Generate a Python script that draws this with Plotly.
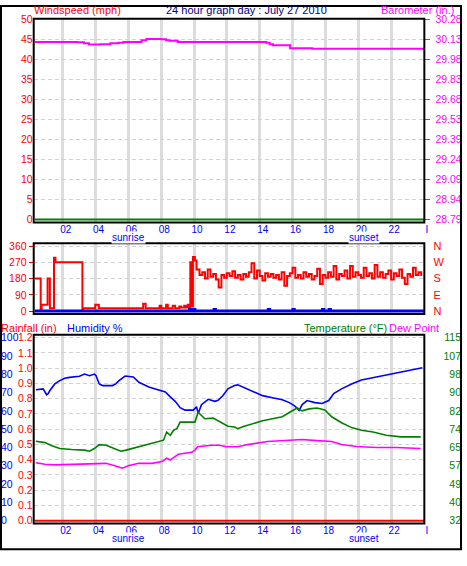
import plotly.graph_objects as go

W, H = 467, 566

# ---------------- data ----------------
hour_ticks = [2, 4, 6, 8, 10, 12, 14, 16, 18, 20, 22, 24]
hour_tick_labels = ["02", "04", "06", "08", "10", "12", "14", "16", "18", "20", "22", "I"]

speed_ticks = [0, 5, 10, 15, 20, 25, 30, 35, 40, 45, 50]
baro_tick_labels = ["28.79", "28.94", "29.09", "29.24", "29.39", "29.53",
                    "29.68", "29.83", "29.98", "30.13", "30.28"]

speed_hours = [0.3, 24.0]
speed_mph = [0, 0]

baro_hours = [0.3, 2.0, 2.9, 3.3, 3.6, 4.3, 4.9, 5.4, 5.7, 6.8, 7.1, 8.0, 8.3, 8.5,
              9.0, 14.2, 14.4, 14.6, 14.8, 15.85, 17.2, 24.0]
baro_in = [30.115, 30.115, 30.112, 30.105, 30.095, 30.098, 30.105, 30.108, 30.115,
           30.127, 30.137, 30.135, 30.127, 30.123, 30.115, 30.115, 30.108, 30.098,
           30.090, 30.068, 30.064, 30.066]

dir_ticks = [0, 90, 180, 270, 360]
compass_labels = ["N", "E", "S", "W", "N"]

dir_hours_early = [0.31, 0.66, 0.72, 1.08, 1.22, 1.47, 1.56, 3.2, 3.25, 3.98, 4.2,
                   6.9, 7.05, 7.9, 8.0, 8.3, 8.4, 8.7, 8.85, 9.1, 9.2, 9.4, 9.5,
                   9.62, 9.72, 9.77, 9.82, 9.93, 10.05, 10.15]
dir_deg_early = [180, 5, 35, 180, 15, 295, 270, 0, 15, 35, 15,
                 40, 15, 30, 15, 35, 15, 30, 15, 25, 20, 30, 20,
                 35, 20, 270, 25, 300, 280, 230]
dir_deg_late = [200, 215, 180, 230, 190, 205, 175, 130, 200, 185, 210, 195, 220, 185,
                200, 175, 205, 190, 215, 265, 180, 225, 195, 170, 210, 190, 205, 185,
                200, 175, 215, 140, 195, 210, 240, 185, 200, 180, 215, 190, 205, 175,
                195, 235, 150, 200, 185, 215, 190, 250, 175, 205, 195, 225, 180, 250,
                190, 215, 200, 185, 240, 195, 210, 180, 255, 190, 215, 185, 205, 225,
                175, 210, 195, 230, 185, 150, 205, 190, 240, 200, 215, 195]
dir_hours_late = [10.33 + i / 6 for i in range(len(dir_deg_late))]

gust_hours = [0.3, 9.7, 9.72, 9.8, 9.95, 9.97, 10.05, 11.2, 11.22, 11.3, 14.5, 14.52, 14.6,
              16.0, 16.02, 16.1, 17.8, 17.82, 17.9, 18.2, 18.22, 18.3, 24.0]
gust_val = [0, 0, 8, 0, 0, 8, 0, 0, 8, 0, 0, 8, 0, 0, 8, 0, 0, 8, 0, 0, 8, 0, 0]

hum_ticks = [0, 10, 20, 30, 40, 50, 60, 70, 80, 90, 100]
rain_tick_labels = ["0.0", "0.1", "0.2", "0.3", "0.4", "0.5", "0.6", "0.7", "0.8",
                    "0.9", "1.0", "1.1", "1.2"]
temp_tick_labels = ["32", "40", "49", "57", "65", "74", "82", "90", "98", "107", "115"]

hum_hours = [0.37, 0.81, 1.02, 1.11, 1.22, 1.52, 1.82, 2.12, 2.42, 3.02, 3.33, 3.63,
             3.93, 4.03, 4.23, 4.43, 5.03, 5.23, 5.43, 5.8, 6.3, 6.64, 7.24, 7.64,
             8.25, 8.55, 8.85, 9.15, 9.45, 9.95, 10.15, 10.25, 10.45, 10.86, 11.26,
             11.46, 11.76, 12.06, 12.46, 12.66, 13.26, 13.74, 14.17, 14.77, 15.37,
             15.8, 16.16, 16.4, 16.58, 16.88, 17.36, 17.78, 18.2, 18.5, 18.98, 19.59,
             20.19, 21.1, 22.3, 22.9, 23.5, 23.9]
hum_pct = [71.5, 72.0, 68.8, 69.4, 71.1, 74.7, 76.5, 77.8, 78.3, 78.9, 80.1, 79.2,
           80.1, 79.2, 74.7, 73.8, 73.8, 74.7, 76.5, 79.0, 78.5, 75.6, 73.0, 72.0,
           70.3, 67.6, 65.2, 61.7, 60.4, 60.4, 62.2, 58.6, 63.4, 66.3, 65.2, 65.8,
           68.4, 72.0, 73.8, 74.2, 72.0, 69.9, 68.3, 67.2, 66.1, 64.5, 62.4, 60.2,
           63.4, 65.6, 64.5, 64.0, 65.6, 69.4, 72.0, 74.7, 76.9, 78.5, 80.6, 81.7,
           83.0, 83.5]

temp_hours = [0.37, 0.92, 1.34, 1.82, 2.54, 3.33, 3.63, 3.93, 4.23, 4.65, 5.13, 5.55,
              5.86, 6.64, 7.42, 7.74, 8.14, 8.33, 8.55, 8.75, 8.95, 9.15, 10.05,
              10.25, 10.45, 10.65, 11.16, 11.56, 12.06, 12.46, 12.66, 12.96, 13.56,
              14.17, 14.77, 15.37, 15.85, 16.28, 16.58, 17.0, 17.48, 17.96, 18.38,
              18.98, 19.59, 20.19, 20.9, 21.7, 22.6, 23.8]
temp_f = [68.0, 67.4, 66.0, 64.7, 64.3, 64.0, 63.5, 64.7, 66.5, 66.2, 64.7, 63.5,
          64.0, 65.5, 67.0, 67.8, 68.5, 72.2, 70.7, 73.0, 73.7, 76.7, 76.7, 81.2,
          79.7, 78.2, 78.5, 76.7, 74.8, 74.5, 73.7, 74.6, 76.0, 77.3, 78.2, 79.1,
          81.3, 83.1, 81.8, 82.7, 83.1, 82.2, 79.1, 76.4, 74.2, 73.0, 72.2, 70.7,
          70.0, 70.0]

dew_hours = [0.37, 0.61, 0.92, 1.5, 2.62, 3.5, 4.63, 5.23, 5.63, 6.04, 6.64, 7.44,
             8.04, 8.34, 8.55, 8.75, 9.05, 9.85, 10.05, 10.21, 11.05, 11.56, 11.96,
             12.66, 13.26, 14.47, 15.67, 16.58, 17.48, 18.38, 18.98, 19.89, 21.1,
             22.3, 23.8]
dew_f = [58.3, 58.0, 57.6, 57.3, 57.6, 58.0, 58.0, 56.8, 55.8, 57.0, 58.0, 58.0,
         58.8, 60.3, 59.5, 60.6, 62.1, 63.0, 64.0, 65.5, 66.2, 66.2, 65.5, 65.5,
         66.5, 67.9, 68.3, 68.8, 68.3, 67.9, 66.5, 65.6, 65.2, 65.2, 64.7]

rain_hours = [0.3, 24.0]
rain_in = [0, 0]

# ---------------- helpers (layout geometry in pixels) ----------------
def px(x):
    return x / W


def py(y):
    return 1 - y / H


def vrange(v0, p0, v1, p1, pa, pb):
    k = (v1 - v0) / (p1 - p0)
    return [v0 + (pa - p0) * k, v0 + (pb - p0) * k]


XL, XR = 34, 428
xr = vrange(2, 63.3, 22, 395.3, XL, XR)
xr[1] = max(xr[1], 24.02)
xdom = [px(XL), px(XR)]

P1T, P1B = 14, 220
P2T, P2B = 243, 313
P3T, P3B = 336, 526

RED = "#ff0000"
MAG = "#ff00ff"
GRN = "#008000"
BLU = "#0000ff"
FONT = "Liberation Sans, Arial, sans-serif"
GRIDV = "#dcdcdc"
GRIDH = "#d2d2d2"
CLEAR = "rgba(0,0,0,0)"

fig = go.Figure()

# panel 1
fig.add_trace(go.Scatter(x=speed_hours, y=speed_mph, mode="lines",
                         line=dict(color=GRN, width=2), xaxis="x", yaxis="y"))
fig.add_trace(go.Scatter(x=baro_hours, y=baro_in, mode="lines", line_shape="hv",
                         line=dict(color=MAG, width=2), xaxis="x", yaxis="y2"))
# panel 2
fig.add_trace(go.Scatter(x=dir_hours_early + dir_hours_late, y=dir_deg_early + dir_deg_late,
                         mode="lines", line_shape="hv",
                         line=dict(color=RED, width=2), xaxis="x2", yaxis="y3"))
fig.add_trace(go.Scatter(x=gust_hours, y=gust_val, mode="lines", line_shape="hv",
                         line=dict(color=BLU, width=3), xaxis="x2", yaxis="y3"))
# empty trace so the compass axis is drawn
fig.add_trace(go.Scatter(x=[None], y=[None], mode="lines", xaxis="x2", yaxis="y4",
                         hoverinfo="skip"))
# panel 3
fig.add_trace(go.Scatter(x=rain_hours, y=rain_in, mode="lines",
                         line=dict(color=RED, width=2), xaxis="x3", yaxis="y5"))
fig.add_trace(go.Scatter(x=hum_hours, y=hum_pct, mode="lines",
                         line=dict(color=BLU, width=1.6), xaxis="x3", yaxis="y6"))
fig.add_trace(go.Scatter(x=temp_hours, y=temp_f, mode="lines",
                         line=dict(color=GRN, width=1.6), xaxis="x3", yaxis="y7"))
fig.add_trace(go.Scatter(x=dew_hours, y=dew_f, mode="lines",
                         line=dict(color=MAG, width=1.6), xaxis="x3", yaxis="y7"))

xcommon = dict(domain=xdom, range=xr, tickmode="array", tickvals=hour_ticks,
               ticktext=hour_tick_labels, showgrid=True, gridcolor=GRIDV, gridwidth=3,
               zeroline=False, showline=False, ticks="", fixedrange=True,
               tickfont=dict(family=FONT, size=10, color=BLU), ticklabelshift=3)
ycommon = dict(zeroline=False, showline=False, ticks="", fixedrange=True)

sp_rng = vrange(0, 218, 50, 15, P1B, P1T)
ba_rng = vrange(28.79, 218, 30.28, 15, P1B, P1T)
dr_rng = vrange(0, 311, 360, 245, P2B, P2T)
ra_rng = vrange(0, 524, 1.2, 338, P3B, P3T)
hu_rng = vrange(0, 524, 100, 338, P3B, P3T)
te_rng = vrange(32, 524, 115, 338, P3B, P3T)

baro_vals = [28.79 + i * (30.28 - 28.79) / 10 for i in range(11)]
rain_vals = [i / 10 for i in range(13)]
temp_vals = [32 + i * (115 - 32) / 10 for i in range(11)]

fig.update_layout(
    width=W, height=H, autosize=False,
    margin=dict(l=0, r=0, t=0, b=0),
    paper_bgcolor="white", plot_bgcolor="white",
    showlegend=False,
    xaxis=dict(anchor="y", **xcommon),
    xaxis2=dict(anchor="y3", **{**xcommon, "showticklabels": False}),
    xaxis3=dict(anchor="y5", **xcommon),
    yaxis=dict(domain=[py(P1B), py(P1T)], range=sp_rng, anchor="x",
               tickvals=speed_ticks, showgrid=True, gridcolor=GRIDH, griddash="4px,3px",
               tickfont=dict(family=FONT, size=10.5, color=RED), **ycommon),
    yaxis2=dict(overlaying="y", side="right", anchor="x", range=ba_rng,
                tickvals=baro_vals, ticktext=baro_tick_labels, showgrid=False,
                zeroline=False, showline=False, ticks="outside", ticklen=5,
                tickwidth=1, tickcolor=MAG, fixedrange=True, ticklabelstandoff=3,
                tickfont=dict(family=FONT, size=10.5, color=MAG)),
    yaxis3=dict(domain=[py(P2B), py(P2T)], range=dr_rng, anchor="x2",
                tickvals=dir_ticks, showgrid=True, gridcolor=GRIDH, griddash="4px,3px",
                zeroline=False, showline=False, ticks="outside", ticklen=4,
                tickcolor=RED, fixedrange=True,
                tickfont=dict(family=FONT, size=10.5, color=RED)),
    yaxis4=dict(overlaying="y3", side="right", anchor="x2", range=dr_rng,
                tickvals=dir_ticks, ticktext=compass_labels, showgrid=False,
                zeroline=False, showline=False, ticks="outside", ticklen=6,
                tickcolor=CLEAR, fixedrange=True,
                tickfont=dict(family=FONT, size=11, color=RED)),
    yaxis5=dict(domain=[py(P3B), py(P3T)], range=ra_rng, anchor="x3",
                tickvals=rain_vals, ticktext=rain_tick_labels, showgrid=True,
                gridcolor=GRIDH, griddash="4px,3px",
                tickfont=dict(family=FONT, size=10.5, color=RED), **ycommon),
    yaxis6=dict(overlaying="y5", side="right", anchor="free", position=0.0,
                range=hu_rng, tickvals=hum_ticks, showgrid=False,
                tickfont=dict(family=FONT, size=10.5, color=BLU), **ycommon),
    yaxis7=dict(overlaying="y5", side="left", anchor="free", position=px(465),
                range=te_rng, tickvals=temp_vals, ticktext=temp_tick_labels,
                showgrid=False,
                tickfont=dict(family=FONT, size=10.5, color=GRN), **ycommon),
)

# frames
def frame(x0, y0, x1, y1, w=2):
    fig.add_shape(type="rect", xref="paper", yref="paper",
                  x0=px(x0), x1=px(x1), y0=py(y1), y1=py(y0),
                  line=dict(color="black", width=w), fillcolor=CLEAR, layer="above")

frame(1, 1, 465, 553)
frame(34, 14, 428, 221)
frame(34, 242, 428, 314)
frame(34, 335, 428, 527)


def label(text, x, y, color, anchor="left", size=11, bg=None):
    fig.add_annotation(text=text, xref="paper", yref="paper", x=px(x), y=py(y),
                       xanchor=anchor, yanchor="middle", showarrow=False,
                       font=dict(family=FONT, size=size, color=color),
                       bgcolor=bg, borderpad=0)


label("Windspeed (mph)", 33, 5.5, RED)
label("24 hour graph day : July 27 2010", 249, 5.5, "#000080", anchor="center")
label("Barometer (in.)", 459, 5.5, MAG, anchor="right")
label("Rainfall (in)", 0, 328, RED)
label("Humidity %", 67, 328, BLU)
label("Temperature (°F)", 391, 328, GRN, anchor="right")
label("Dew Point", 391, 328, MAG)
label("sunrise", 130, 236, BLU, anchor="center", size=10, bg="white")
label("sunset", 367, 236, BLU, anchor="center", size=10, bg="white")
label("sunrise", 130, 542, BLU, anchor="center", size=10, bg="white")
label("sunset", 367, 542, BLU, anchor="center", size=10, bg="white")

fig.write_html("out.html", config={"displayModeBar": False},
               post_script="document.body.style.margin='0';"
                           "document.body.style.overflow='hidden';")
